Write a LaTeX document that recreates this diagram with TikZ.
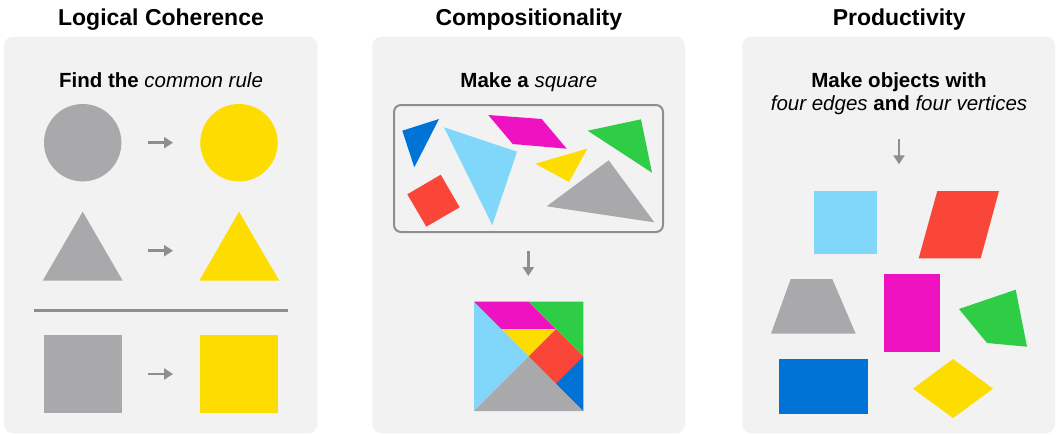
\documentclass[tikz,border=0pt]{standalone}
\usepackage{fontspec}
\setmainfont{Liberation Sans}
\usetikzlibrary{arrows.meta}
\definecolor{panelbg}{HTML}{F2F2F2}
\definecolor{shapegray}{HTML}{A9A8AA}
\definecolor{tyellow}{HTML}{FDDC00}
\definecolor{tlblue}{HTML}{80D7FA}
\definecolor{tmagenta}{HTML}{EE12C0}
\definecolor{tgreen}{HTML}{2FCC45}
\definecolor{tred}{HTML}{FA4639}
\definecolor{tblue}{HTML}{0073D6}
\definecolor{linegray}{HTML}{8E8E8E}
\tikzset{
  panel/.style={fill=panelbg, rounded corners=9pt},
  title/.style={anchor=base, inner sep=0pt, font=\fontsize{23}{27}\selectfont\bfseries},
  subtitle/.style={anchor=base, inner sep=0pt, font=\fontsize{20.5}{24}\selectfont},
  flowarrow/.style={draw=linegray, line width=2.5pt, -{Triangle[length=9pt,width=11pt]}},
}
\begin{document}
\begin{tikzpicture}[x=1pt,y=-1pt]
\useasboundingbox (0,0) rectangle (1058,434);
% panels
\fill[panel] (4,36.7) rectangle (317.3,433.3);
\fill[panel] (372.3,36.7) rectangle (685,433.3);
\fill[panel] (742.3,36.7) rectangle (1055,433.3);
% titles
\node[title] (t1) at (161,25) {Logical Coherence};
\node[title] (t2) at (528.8,25) {Compositionality};
\node[title] (t3) at (899.2,25) {Productivity};
% ---------- Panel 1
\node[subtitle] (s1) at (161,87.3) {\bfseries Find the \mdseries\itshape common rule};
\fill[shapegray] (82.7,142.7) circle[radius=38.7pt];
\fill[tyellow] (239,142.7) circle[radius=38.7pt];
\fill[shapegray] (82.7,211.7) -- (122.7,280.7) -- (42.7,280.7) -- cycle;
\fill[tyellow] (239,211.7) -- (279.3,280.7) -- (199.3,280.7) -- cycle;
\draw[linegray, line width=2.5pt] (34,310.7) -- (288,310.7);
\fill[shapegray] (44,335) rectangle (122,412.7);
\fill[tyellow] (200,335) rectangle (278,412.7);
\coordinate (a1s) at (148,142.7); \coordinate (a1e) at (173,142.7);
\coordinate (a2s) at (148,250.7); \coordinate (a2e) at (173,250.7);
\coordinate (a3s) at (148,374); \coordinate (a3e) at (173,374);
\draw[flowarrow] (a1s) -- (a1e);
\draw[flowarrow] (a2s) -- (a2e);
\draw[flowarrow] (a3s) -- (a3e);
% ---------- Panel 2
\node[subtitle] (s2) at (528.8,87.3) {\bfseries Make a \mdseries\itshape square};
\draw[draw=linegray, line width=2pt, rounded corners=7pt] (394,105) rectangle (663,232);
\fill[tblue] (402.3,130.7) -- (439,119) -- (414.3,167.3) -- cycle;
\fill[tlblue] (444,127.3) -- (517,151.7) -- (492.3,225) -- cycle;
\fill[tmagenta] (488.3,115) -- (541.7,119) -- (566.7,148.7) -- (512.7,144) -- cycle;
\fill[tgreen] (587.7,130.7) -- (641,119.3) -- (652,172.7) -- cycle;
\fill[tyellow] (535.3,163.7) -- (587.3,148.7) -- (569,182) -- cycle;
\fill[shapegray] (546.7,206.3) -- (608.7,160.3) -- (654.3,222.3) -- cycle;
\fill[tred] (407.3,194.3) -- (440.7,174.7) -- (459.7,207.3) -- (426.3,226.7) -- cycle;
\coordinate (a4s) at (528.3,250.7); \coordinate (a4e) at (528.3,276);
\draw[flowarrow] (a4s) -- (a4e);
\begin{scope}[shift={(474,301.7)}, x=109.3pt, y=-109.3pt]
  \fill[tlblue] (0,0) -- (0,1) -- (0.5,0.5) -- cycle;
  \fill[shapegray] (0,1) -- (1,1) -- (0.5,0.5) -- cycle;
  \fill[tmagenta] (0,0) -- (0.5,0) -- (0.75,0.25) -- (0.25,0.25) -- cycle;
  \fill[tgreen] (0.5,0) -- (1,0) -- (1,0.5) -- cycle;
  \fill[tyellow] (0.25,0.25) -- (0.75,0.25) -- (0.5,0.5) -- cycle;
  \fill[tred] (0.75,0.25) -- (1,0.5) -- (0.75,0.75) -- (0.5,0.5) -- cycle;
  \fill[tblue] (1,0.5) -- (1,1) -- (0.75,0.75) -- cycle;
\end{scope}
% ---------- Panel 3
\node[subtitle] (s3a) at (899,87.3) {\bfseries Make objects with};
\node[subtitle] (s3b) at (899,110) {\itshape four edges \bfseries\upshape and \mdseries\itshape four vertices};
\coordinate (a5s) at (899,139.3); \coordinate (a5e) at (899,164.3);
\draw[flowarrow] (a5s) -- (a5e);
\fill[tlblue] (814,191) rectangle (877,254);
\fill[tred] (937.3,191) -- (999,191) -- (980.7,258.3) -- (918.7,258.3) -- cycle;
\fill[shapegray] (790.7,279) -- (832.3,279) -- (855.7,333.7) -- (771,333.7) -- cycle;
\fill[tmagenta] (884,274) rectangle (940,352);
\fill[tgreen] (959,309) -- (1015.7,289.7) -- (1027,346.7) -- (987,343) -- cycle;
\fill[tblue] (779,359) rectangle (868,414);
\fill[tyellow] (913,388.7) -- (953,359) -- (993,388.7) -- (953,418) -- cycle;
\end{tikzpicture}
\end{document}
